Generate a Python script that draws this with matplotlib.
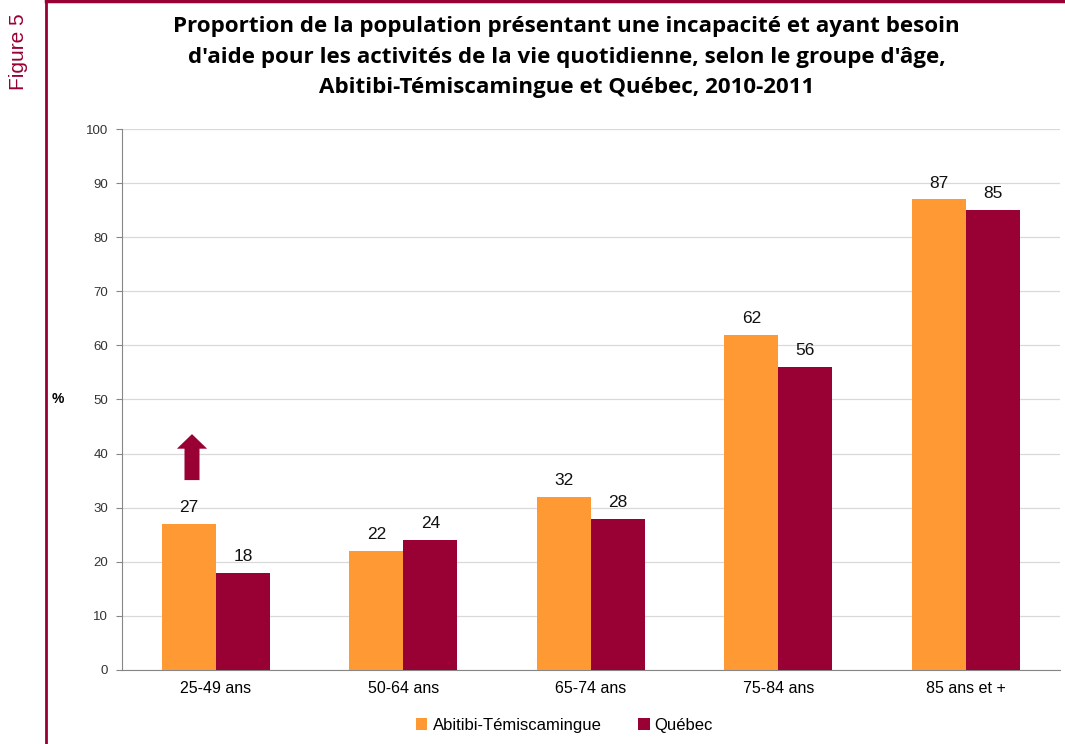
import matplotlib.pyplot as plt
import numpy as np
from matplotlib.lines import Line2D

groupes = ['25-49 ans', '50-64 ans', '65-74 ans', '75-84 ans', '85 ans et +']
abitibi = [27, 22, 32, 62, 87]
quebec = [18, 24, 28, 56, 85]
series = ['Abitibi-Témiscamingue', 'Québec']

orange = '#FF9933'
bordeaux = '#990033'

plt.rcParams['font.family'] = ['Liberation Sans', 'DejaVu Sans']

fig = plt.figure(figsize=(10.65, 7.44), dpi=100)
ax = fig.add_axes([0.1146, 0.0995, 0.8804, 0.7271])

x = np.arange(len(groupes))
w = 0.288
b1 = ax.bar(x - w / 2, abitibi, w, color=orange, label=series[0], zorder=3)
b2 = ax.bar(x + w / 2, quebec, w, color=bordeaux, label=series[1], zorder=3)

for bars, vals in ((b1, abitibi), (b2, quebec)):
    for rect, v in zip(bars, vals):
        ax.text(rect.get_x() + rect.get_width() / 2, v + 1.6, f'{v}',
                ha='center', va='bottom', fontsize=12.5, color='#111111')

# flèche : différence significative
xa = x[0] - w / 2 + 0.017
ax.annotate('', xy=(xa, 43.6), xytext=(xa, 35.1),
            arrowprops=dict(arrowstyle='simple,head_width=1.45,head_length=0.7,tail_width=0.72',
                            mutation_scale=15, color=bordeaux, lw=0,
                            shrinkA=0, shrinkB=0), zorder=4)

ax.set_xlim(-0.5, len(groupes) - 0.5)
ax.set_ylim(0, 100)
ax.set_yticks(range(0, 101, 10))
ax.set_xticks(x)
ax.set_xticklabels(groupes, fontsize=11.5)
ax.tick_params(axis='x', length=0, pad=8)
ax.tick_params(axis='y', labelsize=9.5, labelcolor='#333333', length=4, color='#868686', pad=6)
ax.grid(axis='y', color='#D9D9D9', lw=0.9, zorder=0)
for s in ('top', 'right'):
    ax.spines[s].set_visible(False)
ax.spines['left'].set_color('#868686')
ax.spines['bottom'].set_color('#868686')

ax.set_ylabel('%', rotation=0, fontsize=10, fontweight='bold', labelpad=20, va='center')

fig.text(0.532, 0.978,
         "Proportion de la population présentant une incapacité et ayant besoin\n"
         "d'aide pour les activités de la vie quotidienne, selon le groupe d'âge,\n"
         "Abitibi-Témiscamingue et Québec, 2010-2011",
         ha='center', va='top', fontsize=16.1, fontweight='bold',
         family=['Open Sans', 'DejaVu Sans'], linespacing=1.58)

fig.text(0.017, 0.93, 'Figure 5', rotation=90, ha='center', va='center',
         fontsize=15, color=bordeaux)

# cadre
fig.add_artist(Line2D([0.0432, 0.0432], [0, 1], transform=fig.transFigure,
                      color=bordeaux, lw=2))
fig.add_artist(Line2D([0.0432, 1], [0.998, 0.998], transform=fig.transFigure,
                      color=bordeaux, lw=2.5))

fig.legend(handles=[b1, b2], labels=series, loc='center', bbox_to_anchor=(0.53, 0.025),
           ncol=2, frameon=False, fontsize=12, handlelength=0.7, handleheight=0.7,
           handletextpad=0.3, columnspacing=2.2)

fig.savefig('out.png', dpi=100)
